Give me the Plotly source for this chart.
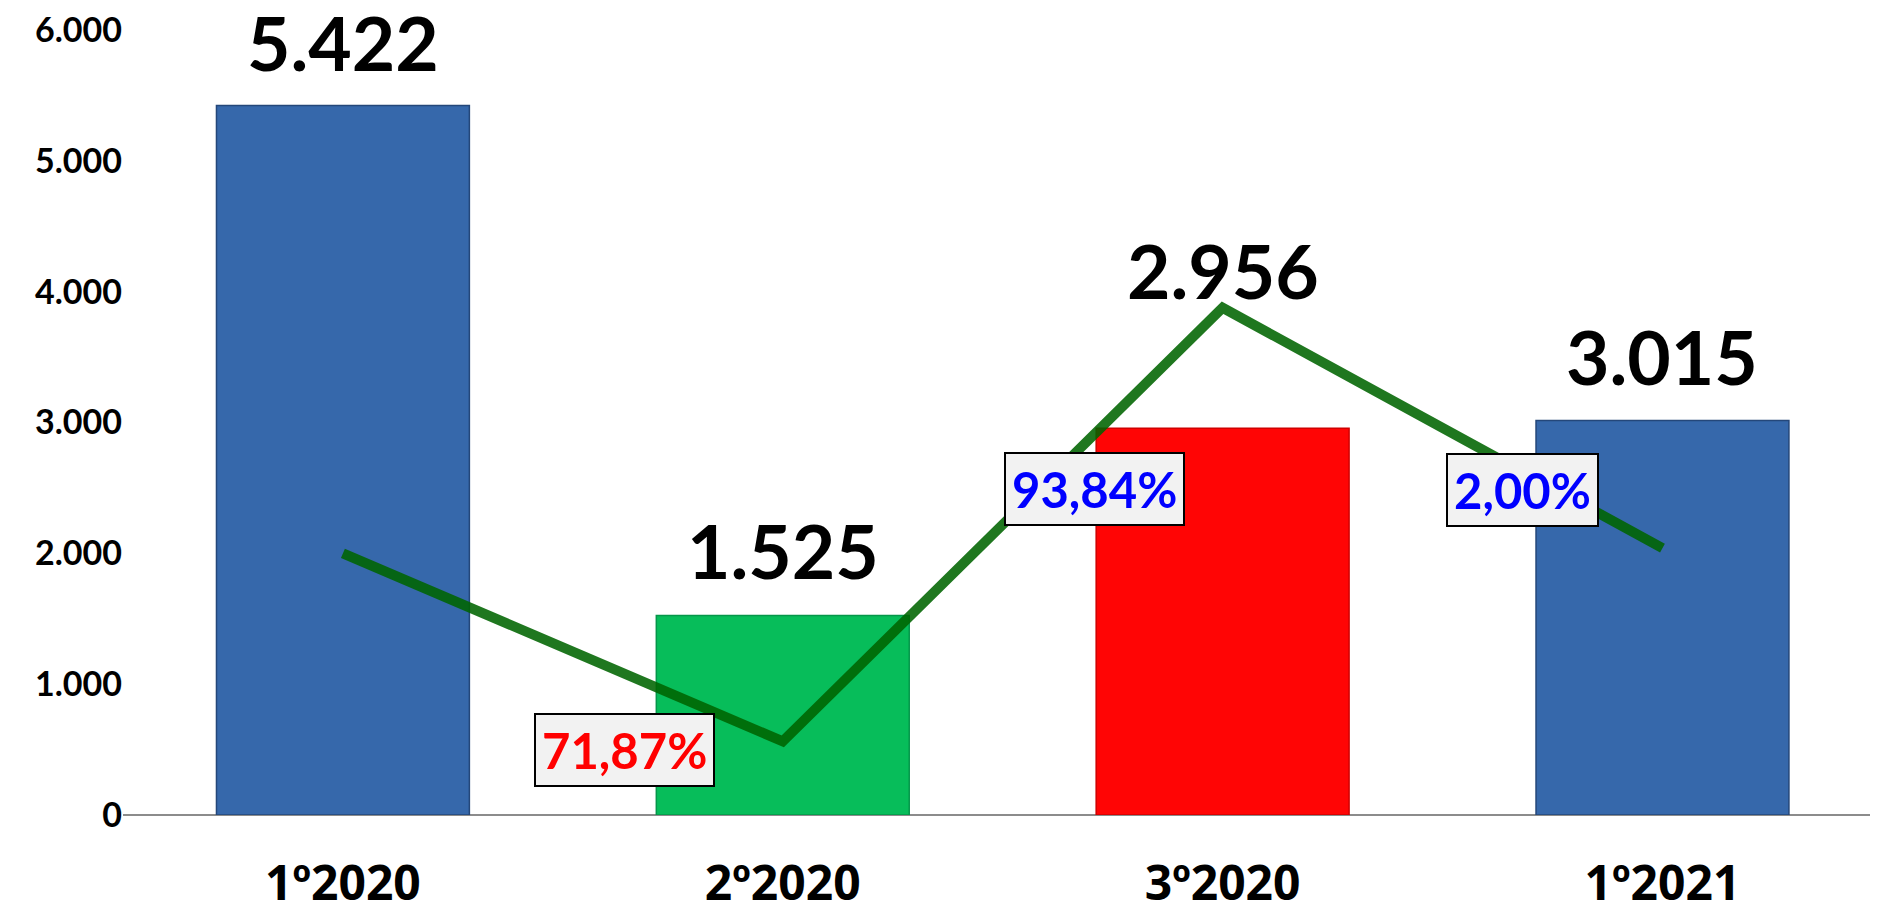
import plotly.graph_objects as go

categories = ["1º2020", "2º2020", "3º2020", "1º2021"]
values = [5422, 1525, 2956, 3015]
bar_colors = ["#3668AB", "#07BD5A", "#FF0505", "#3668AB"]
bar_edges = ["#24477A", "#05964A", "#D00000", "#24477A"]
pct_change = [0.0, -71.87, 93.84, 2.00]
y_ticks = [0, 1000, 2000, 3000, 4000, 5000, 6000]
y_tick_text = ["0", "1.000", "2.000", "3.000", "4.000", "5.000", "6.000"]

FONT = "Lato"
x_idx = list(range(len(categories)))

fig = go.Figure()
fig.add_trace(go.Bar(
    x=x_idx, y=values, width=0.575,
    marker=dict(color=bar_colors, line=dict(color=bar_edges, width=1.5)),
    hoverinfo="skip", showlegend=False,
))
fig.add_trace(go.Scatter(
    x=x_idx, y=pct_change, yaxis="y2", mode="lines",
    line=dict(color="rgba(0,100,0,0.88)", width=10),
    hoverinfo="skip", showlegend=False,
))

def fmt_int(v):
    return f"{v:,}".replace(",", ".")

val_shift = [60, 61, 154, 61]
for i, v in enumerate(values):
    fig.add_annotation(
        x=i, y=v, xref="x", yref="y", text=fmt_int(v), showarrow=False,
        yanchor="middle", yshift=val_shift[i] + 4,
        font=dict(family=FONT, size=75, color="black", weight="bold"),
    )

pct_shift = {1: (-158, -9), 2: (-128, -181), 3: (-140, 58)}
for i, (dx, dy) in pct_shift.items():
    p = pct_change[i]
    txt = f"{abs(p):.2f}".replace(".", ",") + "%"
    fig.add_annotation(
        x=i, y=p, xref="x", yref="y2", text=txt, showarrow=False,
        xshift=dx, yshift=dy, yanchor="middle",
        font=dict(family=FONT, size=49, color="#FF0000" if p < 0 else "#0000FF", weight="bold"),
        bgcolor="#F2F2F2", bordercolor="black", borderwidth=2, borderpad=6,
    )

fig.update_layout(
    width=1870, height=895,
    margin=dict(l=115, r=0, t=22, b=88, autoexpand=False),
    paper_bgcolor="white", plot_bgcolor="white",
    xaxis=dict(
        range=[-0.5, 3.49], tickmode="array", tickvals=x_idx, ticktext=categories,
        showgrid=False, zeroline=False, showline=False, ticks="",
        tickfont=dict(family="Noto Sans", size=48, color="black", weight="bold"),
        ticklabelstandoff=36, fixedrange=True, automargin=False,
        ticklabeloverflow="allow",
    ),
    yaxis=dict(
        range=[0, 6000], tickmode="array", tickvals=y_ticks, ticktext=y_tick_text,
        showgrid=False, zeroline=True, zerolinecolor="#8C8C8C", zerolinewidth=2,
        showline=False, ticks="",
        tickfont=dict(family=FONT, size=34, color="black", weight="bold"),
        ticklabelstandoff=0, fixedrange=True, automargin=False,
        ticklabeloverflow="allow",
    ),
    yaxis2=dict(
        range=[-100, 200], overlaying="y", side="right", visible=False,
        showgrid=False, zeroline=False, fixedrange=True,
    ),
)

fig.write_html("out.html")
